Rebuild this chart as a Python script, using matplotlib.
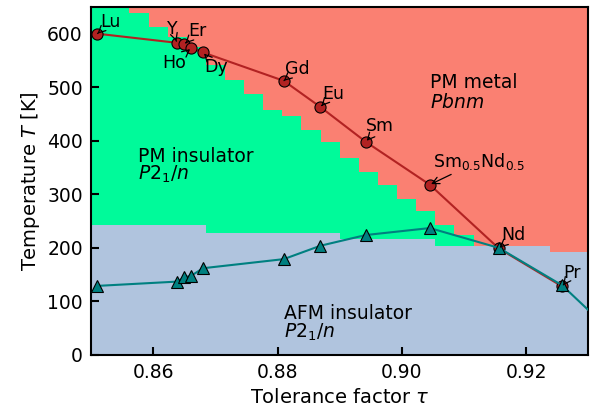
import matplotlib
matplotlib.use("Agg")
import matplotlib.pyplot as plt
import numpy as np

# measured compounds
labels = ["Lu", "Y", "Er", "Ho", "Dy", "Gd", "Eu", "Sm", "Sm$_{0.5}$Nd$_{0.5}$", "Nd", "Pr"]
tau = [0.851, 0.8638, 0.8650, 0.8661, 0.8680, 0.8810, 0.8869, 0.8942, 0.9045, 0.9156, 0.9258]
t_mi = [600, 583, 580, 573, 565, 512, 463, 398, 318, 199, 128]
t_n = [129, 137, 145, 148, 162, 179, 204, 224, 237, 200, 130]
# extrapolated end of the Neel line
tau_tail = [0.93]
t_n_tail = [84]

# label offsets (points) for the annotations
label_dx = [2, -7, 3, -21, 1, 1, 1, 0, 2, 2, 1]
label_dy = [5, 6, 6, -14, -14, 5, 6, 8, 13, 6, 6]

# classified phase map: one value per tau column
grid_edges = np.linspace(0.85, 0.93, 27)
t_metal_grid = [650, 650, 638, 613, 594, 575, 542, 513, 487, 457, 446, 421, 397,
                368, 342, 317, 292, 268, 243, 224, 204, 204, 204, 204, 193, 193]
t_afm_grid = [243, 243, 243, 243, 243, 243, 228, 228, 228, 228, 228, 228, 228,
              217, 217, 217, 217, 217, 204, 204, 204, 204, 204, 204, 193, 193]

plt.rcParams["font.size"] = 13.5

fig = plt.figure(figsize=(5.96, 4.08), dpi=100)
ax = fig.add_axes([0.153, 0.130, 0.834, 0.853])

ax.set_facecolor("salmon")
ax.fill_between(grid_edges, 0, t_metal_grid + t_metal_grid[-1:], step="post",
                color="mediumspringgreen", lw=0, zorder=0)
ax.fill_between(grid_edges, 0, t_afm_grid + t_afm_grid[-1:], step="post",
                color="lightsteelblue", lw=0, zorder=0)

ax.plot(tau, t_mi, "-o", color="firebrick", lw=1.5, ms=8, mec="k", mew=0.8, zorder=3)
ax.plot(tau + tau_tail, t_n + t_n_tail, "-", color="teal", lw=1.5, zorder=3)
ax.plot(tau, t_n, "^", color="teal", ms=9, mec="k", mew=0.8, zorder=4)

for name, x, y, dx, dy in zip(labels, tau, t_mi, label_dx, label_dy):
    ax.annotate(name, xy=(x, y), xytext=(dx, dy), textcoords="offset points",
                ha="left", va="baseline", zorder=5, fontsize=12.5,
                arrowprops=dict(arrowstyle="->", color="k", lw=0.9, shrinkA=0, shrinkB=1))

ax.text(0.9046, 499, "PM metal", ha="left", va="baseline")
ax.text(0.9046, 462, "$Pbnm$", ha="left", va="baseline")
ax.text(0.8576, 361, "PM insulator", ha="left", va="baseline")
ax.text(0.8576, 327, "$P2_1/n$", ha="left", va="baseline")
ax.text(0.8811, 67, "AFM insulator", ha="left", va="baseline")
ax.text(0.8811, 33, "$P2_1/n$", ha="left", va="baseline")

ax.set_xlim(0.85, 0.93)
ax.set_ylim(0, 650)
ax.set_xticks([0.86, 0.88, 0.90, 0.92])
ax.set_xticklabels(["0.86", "0.88", "0.90", "0.92"])
ax.set_yticks(np.arange(0, 700, 100))
ax.tick_params(direction="in", length=6, width=1.5, pad=6)
for sp in ax.spines.values():
    sp.set_linewidth(1.5)

ax.set_xlabel(r"Tolerance factor $\tau$", fontsize=14)
ax.set_ylabel(r"Temperature $T$ [K]", fontsize=14)

fig.savefig("out.png", dpi=100)
